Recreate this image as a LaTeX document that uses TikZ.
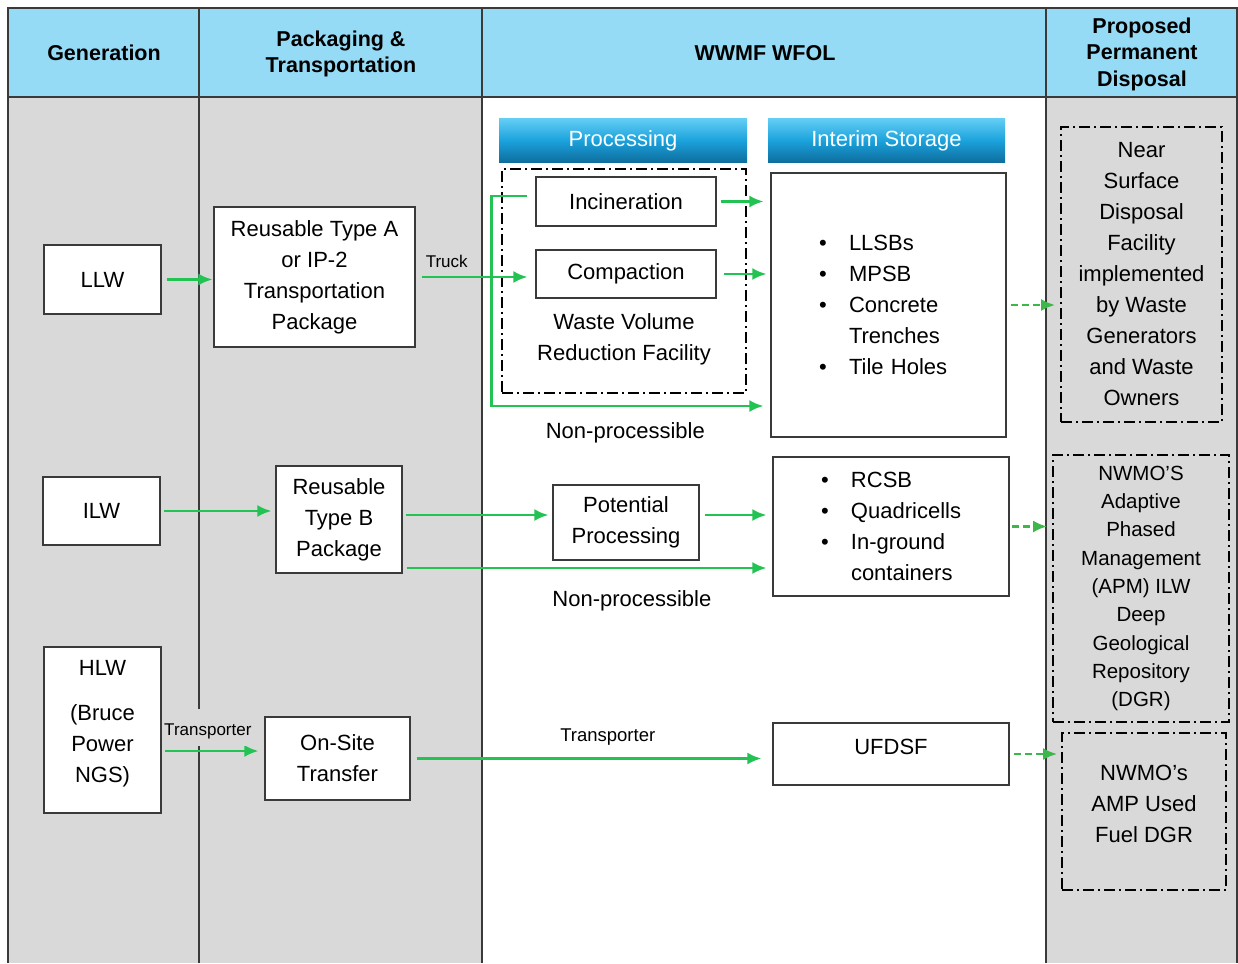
\documentclass[tikz,border=0pt]{standalone}
\usepackage{fontspec}
\setmainfont{Liberation Sans}
\usetikzlibrary{arrows.meta}

\definecolor{headblue}{HTML}{95DBF5}
\definecolor{bggrey}{HTML}{D9D9D9}
\definecolor{rulegrey}{HTML}{3A3A3A}
\definecolor{flowgreen}{HTML}{22C253}
\definecolor{dashgreen}{HTML}{3DB64A}
\definecolor{tabtop}{HTML}{62CDF4}
\definecolor{tabmid}{HTML}{1BA2DC}
\definecolor{tabbot}{HTML}{0E6E9E}

\newcommand\txtbody{\fontsize{22}{31}\selectfont}
\newcommand\txtapm{\fontsize{20.5}{28.3}\selectfont}
\newcommand\txthead{\fontsize{21.5}{26.5}\selectfont\bfseries}
\newcommand\txtsmall{\fontsize{17}{20}\selectfont}
\newcommand\txtlbl{\fontsize{18.5}{22}\selectfont}
\newcommand\itm{\makebox[30pt][l]{\textbullet}}
\newcommand\itmgap{\hspace*{30pt}}

\begin{document}
\begin{tikzpicture}[x=1pt,y=-1pt,
  box/.style={draw=rulegrey,line width=1.2pt,fill=white,align=center,font=\txtbody,inner sep=0pt},
  facility/.style={draw=black,line width=1.8pt,dash pattern=on 11pt off 4pt on 2pt off 4pt,align=center,font=\txtbody,inner sep=0pt},
  colhead/.style={align=center,font=\txthead},
  tab/.style={top color=tabtop,bottom color=tabbot,middle color=tabmid,text=white,font=\txtbody,inner sep=0pt},
  flow/.style={-{Latex[length=14pt,width=12pt]},draw=flowgreen,line width=2.5pt},
  plan/.style={flow,draw=dashgreen,dash pattern=on 7pt off 4pt},
  lbl/.style={font=\txtsmall,inner sep=1pt}]

  \useasboundingbox (0,0) rectangle (1238,963);

  \fill[bggrey] (8,97) rectangle (482,963);
  \fill[bggrey] (1046,97) rectangle (1237,963);
  \fill[headblue] (8,8) rectangle (1237,97);
  \draw[rulegrey,line width=1.3pt] (8,963) |- (1237,8) -- (1237,963);
  \draw[rulegrey,line width=1.3pt] (8,97) -- (1237,97);
  \foreach \x in {199,482,1046}
    \draw[rulegrey,line width=1.3pt] (\x,8) -- (\x,963);

  \node[colhead] (hGen)  at (104,53)  {Generation};
  \node[colhead] (hPack) at (341,54)  {Packaging \&\\Transportation};
  \node[colhead] (hWwmf) at (765,53)  {WWMF WFOL};
  \node[colhead] (hDisp) at (1142,54) {Proposed\\Permanent\\Disposal};

  \node[tab,minimum width=248pt,minimum height=43pt] (procTab) at (623,140.5)   {Processing};
  \node[tab,minimum width=237pt,minimum height=43pt] (storTab) at (886.5,140.5) {Interim Storage};

  \node[box,minimum width=117pt,minimum height=69pt]  (llw) at (102.5,279.5) {LLW};
  \node[box,minimum width=117pt,minimum height=68pt]  (ilw) at (101.5,511)   {ILW};
  \node[box,text depth=16.5pt,minimum width=117pt,minimum height=166pt] (hlw) at (102.5,730)
    {HLW\\[14pt](Bruce\\Power\\NGS)};

  \node[box,minimum width=201pt,minimum height=140pt] (typeA)  at (314.5,277)   {Reusable Type A\\or IP-2\\Transportation\\Package};
  \node[box,minimum width=126pt,minimum height=107pt] (typeB)  at (339,519.5)   {Reusable\\Type B\\Package};
  \node[box,minimum width=145pt,minimum height=83pt]  (onsite) at (337.5,758.5) {On-Site\\Transfer};

  \node[facility,minimum width=244pt,minimum height=224pt] (wvrf) at (624,281) {};
  \node[box,minimum width=180pt,minimum height=49pt] (incin)   at (626,201.5) {Incineration};
  \node[box,minimum width=180pt,minimum height=48pt] (compact) at (626,274)   {Compaction};
  \node[font=\txtbody,align=center] (wvrfName) at (624,339) {Waste Volume\\Reduction Facility};
  \node[box,minimum width=146pt,minimum height=75pt] (potential) at (626,522.5) {Potential\\Processing};

  \node[box,align=left,text width=139pt,minimum width=235pt,minimum height=264pt] (storage) at (888.5,305)
    {\itm LLSBs\\\itm MPSB\\\itm Concrete\\\itmgap Trenches\\\itm Tile Holes};
  \node[box,align=left,text width=140pt,minimum width=236pt,minimum height=139pt] (rcsb) at (891,526.5)
    {\itm RCSB\\\itm Quadricells\\\itm In-ground\\\itmgap containers};
  \node[box,text depth=14pt,minimum width=236pt,minimum height=62pt] (ufdsf) at (891,754) {UFDSF};

  \node[facility,minimum width=161pt,minimum height=295pt] (nsdf) at (1141.5,274.5)
    {Near\\Surface\\Disposal\\Facility\\implemented\\by Waste\\Generators\\and Waste\\Owners};
  \node[facility,font=\txtapm,minimum width=176pt,minimum height=267pt] (apm) at (1141,588.5)
    {NWMO’S\\Adaptive\\Phased\\Management\\(APM) ILW\\Deep\\Geological\\Repository\\(DGR)};
  \node[facility,text depth=16pt,minimum width=164pt,minimum height=157pt] (amp) at (1144,811.5)
    {NWMO’s\\AMP Used\\Fuel DGR};

  \path (llw) edge[flow,shorten <=5pt,shorten >=1pt] (llw -| typeA.west)
        (typeA) edge[flow,shorten <=6pt,shorten >=8pt] node[lbl,pos=.26,above=7pt] {Truck} (typeA -| compact.west)
        (incin) edge[flow,shorten <=4pt,shorten >=7pt] (incin -| storage.west)
        (compact) edge[flow,shorten <=7pt,shorten >=4pt] (compact -| storage.west)
        (ilw) edge[flow,shorten <=3pt,shorten >=4pt] (ilw -| typeB.west)
        ([yshift=4.5pt]typeB.east) edge[flow,shorten <=3pt,shorten >=4pt] ([yshift=4.5pt]typeB.east -| potential.west)
        ([yshift=7.5pt]potential.east) edge[flow,shorten <=5pt,shorten >=6pt] ([yshift=7.5pt]potential.east -| rcsb.west)
        ([yshift=-48.5pt]typeB.east) edge[flow,shorten <=4pt,shorten >=6pt]
          node[font=\txtbody,inner sep=0pt,pos=.62,below=21pt] {Non-processible} ([yshift=-48.5pt]typeB.east -| rcsb.west)
        ([yshift=-21pt]hlw.east) edge[flow,shorten <=3pt,shorten >=6pt]
          node[lbl,fill=bggrey,text height=20pt,minimum height=37pt,pos=.45,above=4pt] {Transporter} ([yshift=-21pt]hlw.east -| onsite.west)
        (onsite) edge[flow,shorten <=6pt,shorten >=11pt]
          node[lbl,font=\txtlbl,pos=.545,above=11pt] {Transporter} (onsite -| ufdsf.west);

  \draw[flow,shorten >=7pt] ([shift={(-8pt,5.5pt)}]incin.west) -- ++(-36,0)
    |- node[font=\txtbody,inner sep=0pt,pos=.74,below=15pt] {Non-processible} ([yshift=-101pt]storage.west);

  \path (storage) edge[plan,shorten <=4pt,shorten >=5pt] (storage -| nsdf.west)
        (rcsb) edge[plan,shorten <=2pt,shorten >=5pt] (rcsb -| apm.west)
        (ufdsf) edge[plan,shorten <=4pt,shorten >=4pt] (ufdsf -| amp.west);
\end{tikzpicture}
\end{document}
